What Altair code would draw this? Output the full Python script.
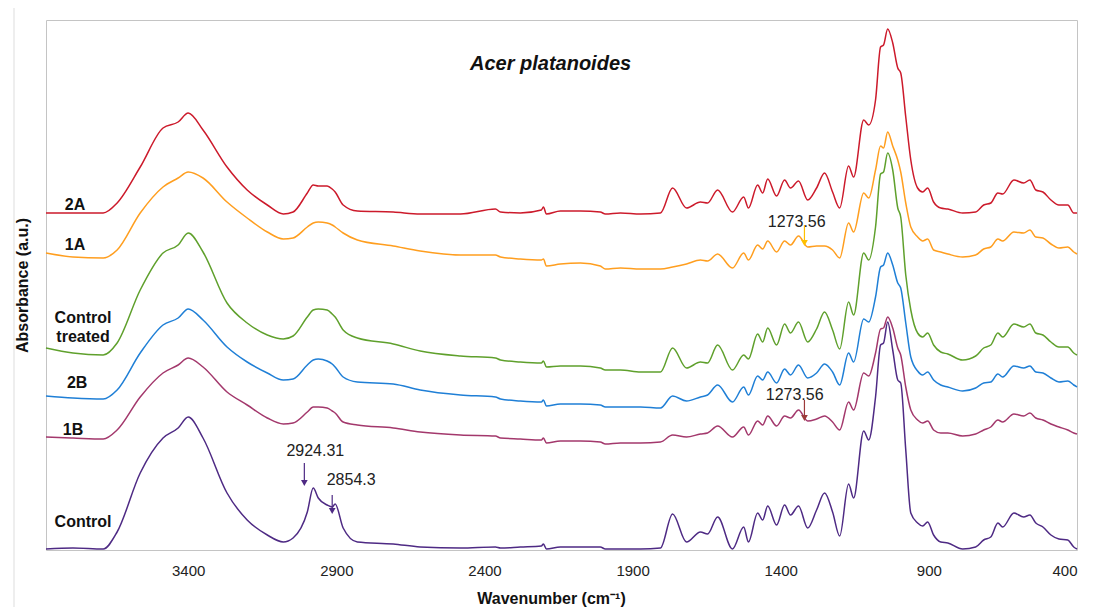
import altair as alt
import pandas as pd

# ---- data ----
wavenumber = [3880, 3789, 3687, 3640, 3562, 3485, 3434, 3400, 3350, 3269,
              3201, 3133, 3079, 3046, 2998, 2978, 2961, 2931, 2914, 2904,
              2877, 2829, 2708, 2617, 2481, 2363, 2346, 2279, 2208, 2201,
              2191, 2144, 2076, 2009, 1992, 1941, 1873, 1806, 1765, 1718,
              1671, 1647, 1613, 1563, 1525, 1509, 1478, 1461, 1444, 1414,
              1387, 1367, 1340, 1309, 1279, 1252, 1225, 1201, 1171, 1154,
              1120, 1103, 1080, 1063, 1053, 1039, 1022, 1005, 995, 978,
              961, 938, 921, 904, 884, 860, 836, 786, 742, 715,
              691, 667, 651, 613, 580, 559, 539, 515, 488, 461,
              431, 411, 400]

a_2A = [3.37, 3.37, 3.37, 3.47, 3.83, 4.22, 4.28, 4.37, 4.20, 3.83,
        3.60, 3.45, 3.36, 3.38, 3.57, 3.65, 3.64, 3.64, 3.61, 3.58,
        3.45, 3.39, 3.38, 3.36, 3.36, 3.41, 3.38, 3.37, 3.40, 3.43,
        3.36, 3.39, 3.39, 3.38, 3.36, 3.37, 3.36, 3.37, 3.62, 3.42,
        3.48, 3.47, 3.60, 3.38, 3.53, 3.42, 3.65, 3.57, 3.71, 3.54,
        3.70, 3.62, 3.69, 3.50, 3.62, 3.77, 3.58, 3.42, 3.84, 3.73,
        4.30, 4.25, 4.50, 5.03, 5.05, 5.21, 5.07, 4.82, 4.77, 4.33,
        3.90, 3.62, 3.58, 3.62, 3.48, 3.42, 3.41, 3.37, 3.38, 3.45,
        3.47, 3.57, 3.56, 3.70, 3.67, 3.70, 3.60, 3.58, 3.50, 3.45,
        3.45, 3.37, 3.37]

a_1A = [2.97, 2.93, 2.92, 3.00, 3.37, 3.63, 3.72, 3.78, 3.72, 3.48,
        3.32, 3.18, 3.11, 3.12, 3.23, 3.27, 3.28, 3.27, 3.25, 3.23,
        3.17, 3.10, 3.04, 2.99, 2.95, 2.95, 2.93, 2.91, 2.90, 2.91,
        2.84, 2.86, 2.87, 2.84, 2.81, 2.82, 2.81, 2.81, 2.83, 2.86,
        2.90, 2.89, 2.96, 2.82, 2.97, 2.90, 3.05, 3.01, 3.09, 2.98,
        3.09, 3.05, 3.14, 3.03, 3.04, 3.04, 3.00, 2.92, 3.27, 3.18,
        3.57, 3.52, 3.80, 4.04, 4.02, 4.18, 4.04, 3.90, 3.78, 3.47,
        3.23, 3.13, 3.09, 3.11, 3.00, 2.98, 2.96, 2.93, 2.95, 3.01,
        3.03, 3.11, 3.09, 3.18, 3.17, 3.20, 3.13, 3.12, 3.06, 3.02,
        3.03, 2.98, 2.96]

a_ct = [2.02, 1.97, 1.95, 2.07, 2.60, 2.97, 3.05, 3.17, 2.98, 2.47,
        2.27, 2.15, 2.11, 2.14, 2.33, 2.40, 2.41, 2.40, 2.36, 2.33,
        2.20, 2.12, 2.06, 1.99, 1.94, 1.92, 1.90, 1.88, 1.87, 1.89,
        1.83, 1.84, 1.84, 1.82, 1.80, 1.80, 1.78, 1.78, 2.02, 1.82,
        1.88, 1.87, 2.05, 1.80, 1.95, 1.91, 2.16, 2.08, 2.22, 2.05,
        2.26, 2.17, 2.28, 2.08, 2.21, 2.38, 2.20, 2.01, 2.48, 2.35,
        2.97, 2.90, 3.23, 3.76, 3.78, 3.97, 3.80, 3.42, 3.33, 2.75,
        2.40, 2.17, 2.13, 2.17, 2.05, 1.98, 1.96, 1.90, 1.94, 2.02,
        2.05, 2.17, 2.13, 2.26, 2.23, 2.26, 2.17, 2.15, 2.08, 2.03,
        2.03, 1.97, 1.95]

a_2B = [1.54, 1.52, 1.51, 1.60, 1.97, 2.25, 2.32, 2.41, 2.30, 2.03,
        1.88, 1.77, 1.70, 1.71, 1.85, 1.90, 1.91, 1.89, 1.86, 1.83,
        1.73, 1.68, 1.66, 1.60, 1.55, 1.53, 1.51, 1.49, 1.48, 1.50,
        1.44, 1.46, 1.46, 1.45, 1.43, 1.43, 1.43, 1.42, 1.54, 1.49,
        1.53, 1.55, 1.65, 1.48, 1.63, 1.55, 1.74, 1.70, 1.78, 1.67,
        1.81, 1.75, 1.85, 1.72, 1.77, 1.86, 1.78, 1.65, 1.97, 1.88,
        2.31, 2.28, 2.53, 2.83, 2.85, 2.97, 2.85, 2.67, 2.62, 2.27,
        1.93, 1.79, 1.75, 1.78, 1.70, 1.65, 1.63, 1.59, 1.62, 1.67,
        1.68, 1.76, 1.73, 1.84, 1.82, 1.84, 1.78, 1.77, 1.72, 1.68,
        1.69, 1.65, 1.63]

a_1B = [1.13, 1.12, 1.11, 1.20, 1.53, 1.77, 1.85, 1.92, 1.83, 1.58,
        1.45, 1.32, 1.26, 1.27, 1.38, 1.43, 1.43, 1.42, 1.39, 1.37,
        1.28, 1.25, 1.22, 1.18, 1.15, 1.14, 1.12, 1.11, 1.10, 1.12,
        1.07, 1.09, 1.09, 1.08, 1.06, 1.07, 1.07, 1.08, 1.15, 1.13,
        1.16, 1.17, 1.24, 1.13, 1.23, 1.15, 1.29, 1.25, 1.34, 1.24,
        1.34, 1.32, 1.40, 1.29, 1.31, 1.34, 1.28, 1.20, 1.48, 1.40,
        1.77, 1.74, 1.97, 2.21, 2.22, 2.33, 2.22, 2.02, 1.95, 1.63,
        1.40, 1.30, 1.27, 1.29, 1.20, 1.17, 1.17, 1.14, 1.16, 1.20,
        1.23, 1.30, 1.28, 1.36, 1.34, 1.37, 1.32, 1.30, 1.26, 1.23,
        1.20, 1.17, 1.16]

a_ctrl = [0.01, 0.02, 0.01, 0.18, 0.77, 1.12, 1.22, 1.33, 1.12, 0.57,
          0.30, 0.15, 0.08, 0.12, 0.38, 0.62, 0.52, 0.45, 0.43, 0.46,
          0.22, 0.08, 0.06, 0.03, 0.02, 0.03, 0.02, 0.03, 0.04, 0.06,
          0.01, 0.03, 0.03, 0.03, 0.01, 0.01, 0.01, 0.02, 0.36, 0.08,
          0.18, 0.16, 0.33, 0.01, 0.23, 0.08, 0.37, 0.30, 0.44, 0.25,
          0.45, 0.35, 0.44, 0.22, 0.40, 0.57, 0.38, 0.14, 0.66, 0.52,
          1.19, 1.10, 1.53, 2.05, 2.07, 2.28, 2.00, 1.70, 1.67, 1.00,
          0.37, 0.27, 0.24, 0.28, 0.15, 0.08, 0.07, 0.01, 0.03, 0.10,
          0.13, 0.27, 0.23, 0.37, 0.33, 0.35, 0.27, 0.23, 0.15, 0.11,
          0.10, 0.03, 0.01]

samples = ["2A", "1A", "Control treated", "2B", "1B", "Control"]
colors = ["#cc1a2b", "#ff9e1f", "#5fa02c", "#1f7fd6", "#a3386c", "#4e2a84"]
series = [a_2A, a_1A, a_ct, a_2B, a_1B, a_ctrl]

# sample labels at the left
label_text = ["2A", "1A", "Control", "treated", "2B", "1B", "Control"]
label_wn = [3782, 3782, 3755, 3755, 3775, 3789, 3755]
label_a = [3.45, 3.05, 2.32, 2.13, 1.67, 1.20, 0.28]

# peak annotations
ann_text = ["1273.56", "1273.56", "2924.31", "2854.3"]
ann_text_wn = [1346, 1353, 2971, 2850]
ann_text_a = [3.28, 1.55, 0.99, 0.70]
ann_arrow_wn = [1320, 1320, 3008, 2914]
ann_arrow_top = [3.25, 1.50, 0.87, 0.55]
ann_arrow_tip = [3.07, 1.32, 0.67, 0.39]
ann_color = ["#ffc000", "#9c3a3a", "#4e2a84", "#4e2a84"]

x_ticks = [3400, 2900, 2400, 1900, 1400, 900, 400]

# ---- build tables ----
rows = []
for name, vals in zip(samples, series):
    for w, v in zip(wavenumber, vals):
        rows.append({"wn": w, "A": v, "sample": name})
spectra = pd.DataFrame(rows)
labels = pd.DataFrame({"wn": label_wn, "A": label_a, "text": label_text})
ann = pd.DataFrame({"wn": ann_text_wn, "A": ann_text_a, "text": ann_text})
arrows = pd.DataFrame({"wn": ann_arrow_wn, "A": ann_arrow_top, "tip": ann_arrow_tip,
                       "col": ann_color})
title_df = pd.DataFrame({"wn": [2177], "A": [4.86], "text": ["Acer platanoides"]})

FONT = "Liberation Sans"
xs = alt.Scale(domain=[400, 3880], reverse=True, nice=False, zero=False)
ys = alt.Scale(domain=[0, 5.3], nice=False, zero=False)
xaxis = alt.Axis(values=x_ticks, title="Wavenumber (cm\u207b\u00b9)", grid=False, ticks=False,
                 domain=False, labelPadding=13, labelFontSize=15, labelFont=FONT,
                 labelColor="#222222", titleFont=FONT, titleFontSize=16, titleFontWeight="bold",
                 titleColor="#111111", titleY=48, titleX=505, titleAlign="center",
                 titleBaseline="middle", format="d")
yaxis = alt.Axis(title="Absorbance (a.u.)", labels=False, ticks=False, domain=False, grid=False,
                 titleFont=FONT, titleFontSize=16, titleFontWeight="bold", titleColor="#111111",
                 titleX=-24, titleBaseline="middle")
X = alt.X("wn:Q", scale=xs, axis=xaxis)
Y = alt.Y("A:Q", scale=ys, axis=yaxis)

lines = alt.Chart(spectra).mark_line(strokeWidth=1.5, interpolate="monotone").encode(
    x=X, y=Y,
    color=alt.Color("sample:N", scale=alt.Scale(domain=samples, range=colors), legend=None),
    detail="sample:N",
)

lab = alt.Chart(labels).mark_text(font=FONT, fontSize=16, fontWeight="bold", color="#111111",
                                  align="center", baseline="middle").encode(x=X, y=Y, text="text:N")

ann_t = alt.Chart(ann).mark_text(font=FONT, fontSize=16, color="#222222",
                                 align="center", baseline="middle").encode(x=X, y=Y, text="text:N")

arrow_line = alt.Chart(arrows).mark_rule(strokeWidth=1.2).encode(
    x=X, y=Y, y2="tip:Q", color=alt.Color("col:N", scale=None))
arrow_head = alt.Chart(arrows).mark_point(shape="triangle-down", filled=True, size=45, opacity=1).encode(
    x=X, y=alt.Y("tip:Q", scale=ys, axis=yaxis), color=alt.Color("col:N", scale=None))

title = alt.Chart(title_df).mark_text(font=FONT, fontSize=20, fontWeight="bold", fontStyle="italic",
                                      color="#111111", align="center", baseline="middle").encode(
    x=X, y=Y, text="text:N")

# thin light border line of the chart area, left of the plot
edge = alt.Chart(title_df).mark_rule(color="#dddddd", strokeWidth=1).encode(
    x=alt.value(-32), y=alt.value(-12), y2=alt.value(590))

chart = alt.layer(edge, lines, arrow_line, arrow_head, lab, ann_t, title).properties(
    width=1031, height=530,
    padding={"left": 38, "top": 12, "right": 5, "bottom": 57},
    autosize=alt.AutoSizeParams(type="none"),
).configure_view(stroke="#c4c4c4", strokeWidth=1).resolve_scale(color="independent")

chart.save("out.html", embed_options={"renderer": "svg", "actions": False})
